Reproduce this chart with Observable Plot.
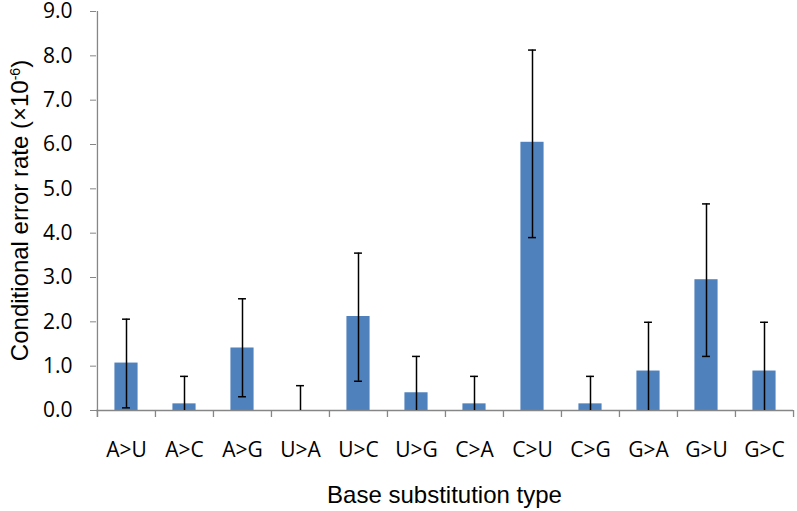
<!DOCTYPE html>
<html><head><meta charset="utf-8">
<script src="https://cdn.jsdelivr.net/npm/d3@7"></script>
<script src="https://cdn.jsdelivr.net/npm/@observablehq/plot@0.6"></script>
<style>body{margin:0;background:#fff}</style>
</head><body><div id="chart"></div>
<script>
const types = ["A>U","A>C","A>G","U>A","U>C","U>G","C>A","C>U","C>G","G>A","G>U","G>C"];
const rate  = [1.07, 0.15, 1.41, 0.00, 2.12, 0.40, 0.15, 6.05, 0.15, 0.89, 2.95, 0.89];
const upper = [2.06, 0.77, 2.52, 0.56, 3.55, 1.22, 0.77, 8.13, 0.77, 1.99, 4.66, 1.99];
const lower = [0.06, 0.00, 0.31, 0.00, 0.66, 0.00, 0.00, 3.90, 0.00, 0.00, 1.22, 0.00];
const yTicks = [0,1,2,3,4,5,6,7,8,9];
const xTitle = "Base substitution type";
const yTitleMain = "Conditional error rate (×10";
const yTitleSup = "-6";
const yTitleEnd = ")";

const data = types.map((t,i)=>({type:t, rate:rate[i], lo:lower[i], hi:upper[i]}));
const W=797, H=511, mL=96, mR=4, mT=11, mB=101;
const bw = (W-mL-mR)/types.length;
const barW = bw/2.5;
const inset = (bw-barW)/2;
const capHalf = 4;
const axisGrey = "#868686";
const plotH = H-mT-mB;

const chart = Plot.plot({
  width: W, height: H, marginLeft: mL, marginRight: mR, marginTop: mT, marginBottom: mB,
  style: {fontFamily: "'Open Sans', sans-serif", background: "white", overflow: "visible"},
  x: {domain: types, padding: 0, label: null},
  y: {domain: [0,9], label: null},
  marks: [
    Plot.barY(data, {x:"type", y:"rate", fill:"#4F81BD", insetLeft: inset, insetRight: inset}),
    Plot.ruleY([0], {stroke: axisGrey, strokeWidth: 1.3}),
    Plot.ruleX(types, {x: d=>d, dx: -bw/2, stroke: axisGrey, strokeWidth: 1.3, insetTop: plotH, insetBottom: -7}),
    Plot.ruleX([types[types.length-1]], {x: d=>d, dx: bw/2, stroke: axisGrey, strokeWidth: 1.3, insetTop: plotH, insetBottom: -7}),
    Plot.ruleX([types[0]], {x: d=>d, dx: -bw/2, stroke: axisGrey, strokeWidth: 1.3, insetBottom: -7}),
    Plot.axisY({ticks: yTicks, tickFormat: d3.format(".1f"), tickSize: 6, tickPadding: 18, stroke: axisGrey, fill: "black", fontSize: 21}),
    Plot.axisX({tickSize: 0, tickPadding: 32, fontSize: 21, fill: "black"}),
    Plot.ruleX(data, {x:"type", y1:"lo", y2:"hi", stroke:"black", strokeWidth:1.5}),
    Plot.tickY(data, {x:"type", y:"hi", stroke:"black", strokeWidth:1.5, insetLeft: bw/2-capHalf, insetRight: bw/2-capHalf}),
    Plot.tickY(data.filter(d=>d.lo>0), {x:"type", y:"lo", stroke:"black", strokeWidth:1.5, insetLeft: bw/2-capHalf, insetRight: bw/2-capHalf})
  ]
});

const svg = d3.select(chart);
svg.append("text")
  .attr("x", (mL + W - mR)/2).attr("y", 503)
  .attr("text-anchor","middle")
  .style("font-family","'Liberation Sans', Arial, sans-serif")
  .style("font-size","24px").attr("fill","black")
  .text(xTitle);
const yt = svg.append("text")
  .attr("transform", `translate(28,${mT + plotH/2}) rotate(-90)`)
  .attr("text-anchor","middle")
  .style("font-family","'Liberation Sans', Arial, sans-serif")
  .style("font-size","24px").attr("fill","black");
yt.append("tspan").text(yTitleMain);
yt.append("tspan").attr("dy", -8).style("font-size","14px").text(yTitleSup);
yt.append("tspan").attr("dy", 8).text(yTitleEnd);

document.getElementById("chart").appendChild(chart);
</script>
</body></html>
